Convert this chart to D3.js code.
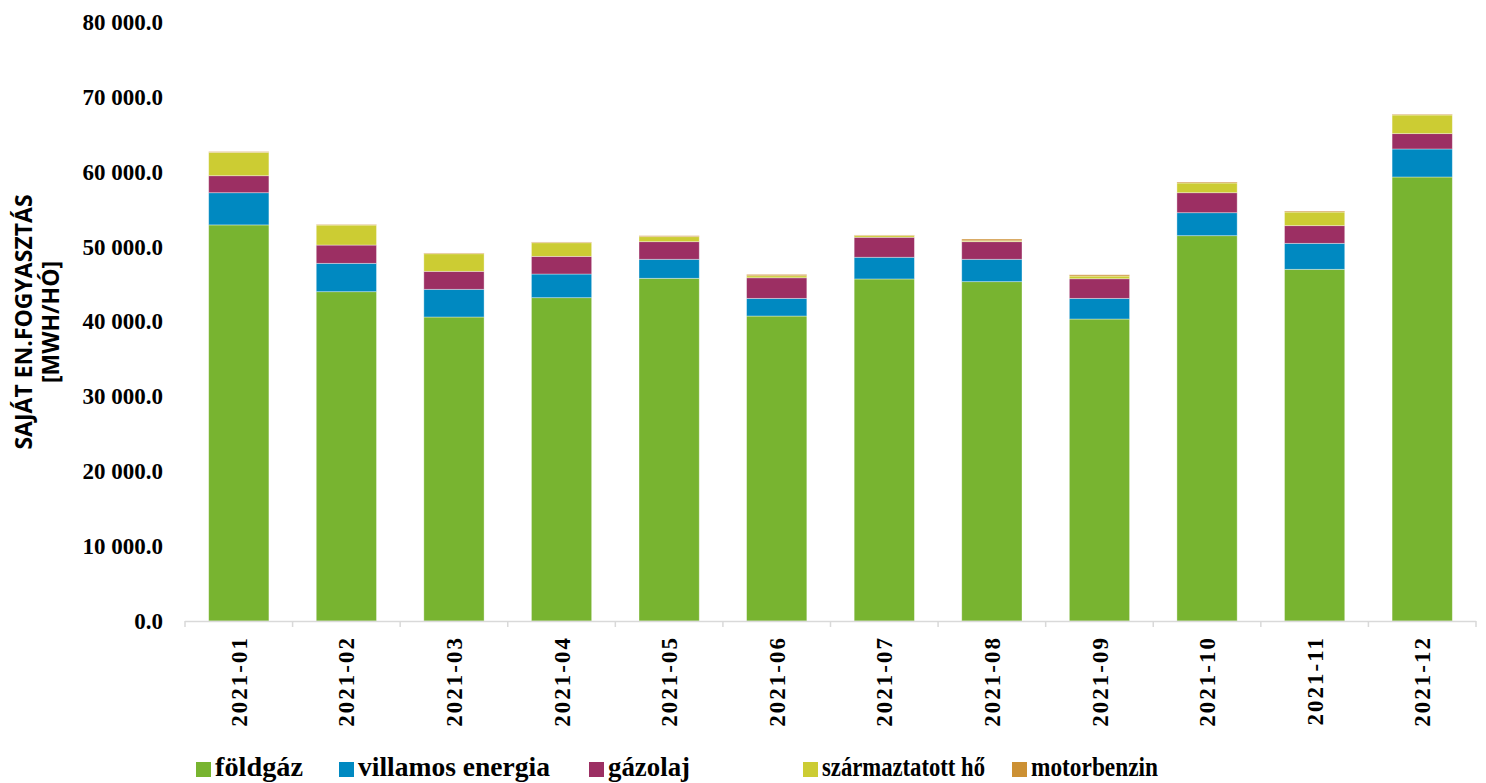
<!DOCTYPE html>
<html>
<head>
<meta charset="utf-8">
<script src="https://cdn.jsdelivr.net/npm/d3@7"></script>
<style>
  body { margin: 0; background: #fff; }
  svg { display: block; }
</style>
</head>
<body>
<svg id="chart" width="1486" height="783"></svg>
<script>
'use strict'

const months = ['2021-01', '2021-02', '2021-03', '2021-04', '2021-05', '2021-06',
                '2021-07', '2021-08', '2021-09', '2021-10', '2021-11', '2021-12']

const seriesNames = ['földgáz', 'villamos energia', 'gázolaj', 'származtatott hő', 'motorbenzin']
const seriesColors = ['#78b430', '#0089c1', '#9c2f63', '#cccc33', '#cc9033']

// values, MWh per month
const foldgaz     = [52900, 43980, 40600, 43180, 45770, 40730, 45680, 45320, 40330, 51460, 46970, 59300]
const villamos    = [4300, 3790, 3700, 3160, 2540, 2360, 2900, 2990, 2760, 3070, 3470, 3740]
const gazolaj     = [2270, 2440, 2400, 2360, 2350, 2750, 2670, 2350, 2620, 2670, 2360, 2050]
const szarmaztat  = [3130, 2670, 2350, 1820, 670, 270, 215, 120, 360, 1300, 1820, 2490]
const motorbenzin = [90, 80, 100, 100, 130, 180, 90, 230, 170, 130, 130, 100]

const yTicks = [0, 10000, 20000, 30000, 40000, 50000, 60000, 70000, 80000]

const serifFont = '"Liberation Serif", "Times New Roman", serif'
// legend layout (not data): start of each entry and width of its label
const legendX = [196, 339, 589, 803, 1012]
const legendW = [88, 192, 82, 163, 127]

const rows = months.map((m, i) => ({
    month: m,
    'földgáz': foldgaz[i],
    'villamos energia': villamos[i],
    'gázolaj': gazolaj[i],
    'származtatott hő': szarmaztat[i],
    'motorbenzin': motorbenzin[i]
}))

const svg = d3.select('#chart')

const x = d3.scaleBand()
    .domain(months)
    .range([185, 1476])
    .paddingInner(0.44)
    .paddingOuter(0.22)

const y = d3.scaleLinear()
    .domain([0, 80000])
    .range([621, 22])

const color = d3.scaleOrdinal().domain(seriesNames).range(seriesColors)

const stacked = d3.stack().keys(seriesNames)(rows)

// bars
svg.append('g')
  .selectAll('g')
  .data(stacked)
  .join('g')
    .attr('fill', (d) => color(d.key))
  .selectAll('rect')
  .data((d) => d)
  .join('rect')
    .attr('x', (d) => x(d.data.month))
    .attr('width', x.bandwidth())
    .attr('y', (d) => y(d[1]))
    .attr('height', (d) => y(d[0]) - y(d[1]))
    .attr('stroke', 'rgba(255,255,255,0.45)')
    .attr('stroke-width', 0.8)

// y axis labels, no line
const yAxis = svg.append('g')
    .attr('transform', 'translate(163,0)')
    .call(d3.axisLeft(y)
        .tickValues(yTicks)
        .tickSize(0)
        .tickPadding(0)
        .tickFormat((d) => d3.format(',.1f')(d).replace(/,/g, ' ')))
yAxis.select('.domain').remove()
yAxis.selectAll('text')
    .attr('font-family', serifFont)
    .attr('font-weight', 'bold')
    .attr('font-size', 23)
    .attr('fill', '#000')

// x axis line and boundary ticks
const xAxis = svg.append('g')
xAxis.append('line')
    .attr('x1', x.range()[0]).attr('x2', x.range()[1])
    .attr('y1', y(0) + 0.5).attr('y2', y(0) + 0.5)
    .attr('stroke', '#d9d9d9').attr('stroke-width', 1.5)
xAxis.selectAll('.bound')
  .data(d3.range(months.length + 1))
  .join('line')
    .attr('class', 'bound')
    .attr('x1', (i) => x.range()[0] + i * x.step())
    .attr('x2', (i) => x.range()[0] + i * x.step())
    .attr('y1', y(0))
    .attr('y2', y(0) + 6)
    .attr('stroke', '#d9d9d9').attr('stroke-width', 1.5)
xAxis.selectAll('.mlabel')
  .data(months)
  .join('text')
    .attr('class', 'mlabel')
    .attr('transform', (d) => `translate(${x(d) + x.bandwidth() / 2},636) rotate(-90)`)
    .attr('text-anchor', 'end')
    .attr('dy', '0.35em')
    .attr('font-family', serifFont)
    .attr('font-weight', 'bold')
    .attr('font-size', 23)
    .attr('letter-spacing', 2)
    .text((d) => d)

// y axis title
const title = svg.append('text')
    .attr('transform', 'translate(37,322) rotate(-90)')
    .attr('text-anchor', 'middle')
    .attr('font-family', '"Open Sans", "DejaVu Sans", sans-serif')
    .attr('font-weight', 'bold')
    .attr('font-size', 23)
title.append('tspan').attr('x', 0).attr('dy', -5).text('SAJÁT EN.FOGYASZTÁS')
title.append('tspan').attr('x', 0).attr('dy', 27).text('[MWH/HÓ]')

// legend
const legend = svg.append('g')
seriesNames.forEach((name, i) => {
    const item = legend.append('g')
    item.append('rect')
        .attr('x', legendX[i]).attr('y', 762)
        .attr('width', 15).attr('height', 15)
        .attr('fill', color(name))
    item.append('text')
        .attr('x', legendX[i] + 19).attr('y', 776)
        .attr('font-family', serifFont)
        .attr('font-weight', 'bold')
        .attr('font-size', 28)
        .attr('textLength', legendW[i])
        .attr('lengthAdjust', 'spacingAndGlyphs')
        .text(name)
})
</script>
</body>
</html>
